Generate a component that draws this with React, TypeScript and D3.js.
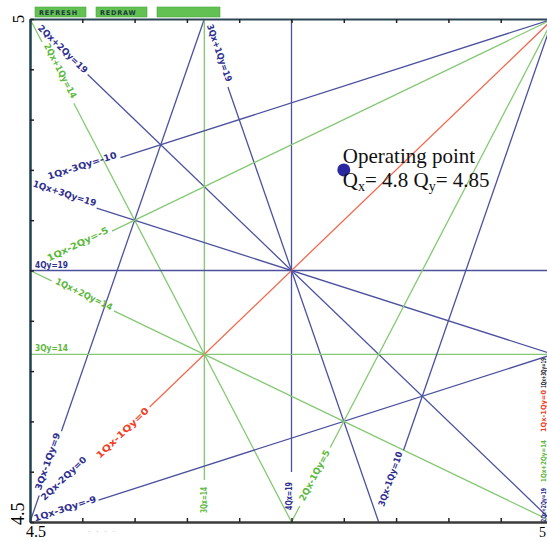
import React, { useRef, useEffect } from 'react'
import * as d3 from 'd3'

const W = 547
const H = 542

// resonance lines: kx*Qx + ky*Qy = kc
const resonances = [
  '2Qx+2Qy=19', '2Qx+1Qy=14', '3Qx+1Qy=19', '3Qx-1Qy=9', '3Qx=14', '4Qx=19',
  '4Qy=19', '3Qy=14', '1Qx-1Qy=0', '2Qx-2Qy=0', '1Qx+3Qy=19', '1Qx-3Qy=-10',
  '1Qx-3Qy=-9', '1Qx+2Qy=14', '1Qx-2Qy=-5', '2Qx-1Qy=5', '3Qx-1Qy=10',
]
const kx = [2, 2, 3, 3, 3, 4, 0, 0, 1, 2, 1, 1, 1, 1, 1, 2, 3]
const ky = [2, 1, 1, -1, 0, 0, 4, 3, -1, -2, 3, -3, -3, 2, -2, -1, -1]
const kc = [19, 14, 19, 9, 14, 19, 19, 14, 0, 0, 19, -10, -9, 14, -5, 5, 10]

// tune range and operating point
const qRange = [4.5, 5]
const opQx = 4.8
const opQy = 4.85

const buttons = ['REFRESH', 'REDRAW', '']
const edgeLabels = ['1Qx+3Qy=19', '1Qx-1Qy=0', '1Qx+2Qy=14', '2Qx+2Qy=19']
const edgeOrders = [0, 2, 3, 4]

// line colour by resonance order
const lineColor: Record<number, string> = { 2: '#f2694e', 3: '#84c873', 4: '#4c519f' }
const textColor: Record<number, string> = { 0: '#222233', 2: '#f0401f', 3: '#5cb83c', 4: '#2e2e8e' }

// label placement along each line (px from the anchor end)
interface Lay { end: 'left' | 'top' | 'bottom'; d0: number; d1: number; resume?: number; pre?: number; off: number; full?: boolean; noLine?: boolean }
const layout: Record<string, Lay> = {
  '2Qx+2Qy=19': { end: 'left', d0: 12, d1: 77, resume: 80, off: -1 },
  '2Qx+1Qy=14': { end: 'left', pre: 26, d0: 30, d1: 90, resume: 95, off: -3 },
  '3Qx+1Qy=19': { end: 'top', d0: 7, d1: 67, resume: 72, off: -3 },
  '3Qx-1Qy=9': { end: 'bottom', pre: 28, d0: 33, d1: 93, resume: 96, off: -3 },
  '3Qx=14': { end: 'bottom', d0: 9, d1: 35, resume: 42, off: 0 },
  '4Qx=19': { end: 'bottom', d0: 12, d1: 40, resume: 50, off: -3 },
  '4Qy=19': { end: 'left', d0: 5, d1: 38, off: -6, full: true },
  '3Qy=14': { end: 'left', d0: 5, d1: 38, off: -6, full: true },
  '1Qx-1Qy=0': { end: 'left', d0: 94, d1: 163, resume: 166, off: 0 },
  '2Qx-2Qy=0': { end: 'left', d0: 25, d1: 84, off: -8, noLine: true },
  '1Qx+3Qy=19': { end: 'left', d0: 2, d1: 68, resume: 70, off: -4 },
  '1Qx-3Qy=-10': { end: 'left', d0: 20, d1: 92, resume: 95, off: -4 },
  '1Qx-3Qy=-9': { end: 'left', d0: 5, d1: 70, resume: 72, off: -2 },
  '1Qx+2Qy=14': { end: 'left', pre: 24, d0: 28, d1: 90, resume: 93, off: -2 },
  '1Qx-2Qy=-5': { end: 'left', d0: 21, d1: 88, resume: 91, off: -3 },
  '2Qx-1Qy=5': { end: 'bottom', pre: 18, d0: 24, d1: 80, resume: 84, off: -1 },
  '3Qx-1Qy=10': { end: 'bottom', d0: 16, d1: 73, resume: 76, off: -3 },
}

function clipLine(a: number, b: number, c: number): [number, number][] {
  const [lo, hi] = qRange
  const eps = 1e-9
  const pts: [number, number][] = []
  const add = (p: [number, number]) => {
    if (!pts.some(q => Math.abs(q[0] - p[0]) < 1e-6 && Math.abs(q[1] - p[1]) < 1e-6)) pts.push(p)
  }
  if (b !== 0) for (const qx of [lo, hi]) {
    const qy = (c - a * qx) / b
    if (qy >= lo - eps && qy <= hi + eps) add([qx, qy])
  }
  if (a !== 0) for (const qy of [lo, hi]) {
    const qx = (c - b * qy) / a
    if (qx >= lo - eps && qx <= hi + eps) add([qx, qy])
  }
  return pts
}

export default function App() {
  const ref = useRef<SVGSVGElement>(null)
  useEffect(() => {
    if (!ref.current) return
    const svg = d3.select(ref.current)
    svg.selectAll('*').remove()

    const x = d3.scaleLinear().domain(qRange).range([30, 553])
    const y = d3.scaleLinear().domain(qRange).range([522, 19])

    svg.append('rect').attr('width', W).attr('height', H).attr('fill', '#fff')

    // buttons
    const bx = [35, 96, 157]
    const bw = [51, 51, 63]
    buttons.forEach((b, i) => {
      svg.append('rect').attr('x', bx[i]).attr('y', 7).attr('width', bw[i]).attr('height', 10)
        .attr('fill', '#62c152').attr('stroke', '#4aa83c').attr('stroke-width', 0.6)
      if (b) svg.append('text').attr('x', bx[i] + 4).attr('y', 15).text(b)
        .attr('font-family', 'DejaVu Sans').attr('font-weight', 'bold').attr('font-size', 6.5)
        .attr('letter-spacing', 0.8).attr('fill', '#1c3a3a')
    })

    const plot = svg.append('g')

    resonances.forEach((name, i) => {
      const order = Math.abs(kx[i]) + Math.abs(ky[i])
      const lay = layout[name]
      const pts = clipLine(kx[i], ky[i], kc[i]).map(p => [x(p[0]), y(p[1])] as [number, number])
      if (pts.length < 2) return
      let [p0, p1] = pts
      if (lay.end === 'left' && p1[0] < p0[0]) [p0, p1] = [p1, p0]
      if (lay.end === 'top' && p1[1] < p0[1]) [p0, p1] = [p1, p0]
      if (lay.end === 'bottom' && p1[1] > p0[1]) [p0, p1] = [p1, p0]
      const dx = p1[0] - p0[0]
      const dy = p1[1] - p0[1]
      const len = Math.hypot(dx, dy)
      const ux = dx / len
      const uy = dy / len
      const at = (d: number) => [p0[0] + ux * d, p0[1] + uy * d]
      const seg = (d1: number, d2: number) => {
        const a = at(d1), b = at(d2)
        plot.append('line').attr('x1', a[0]).attr('y1', a[1]).attr('x2', b[0]).attr('y2', b[1])
          .attr('stroke', lineColor[order]).attr('stroke-width', 1.3)
      }
      if (!lay.noLine) {
        if (lay.full) seg(0, len)
        else {
          if (lay.pre) seg(0, lay.pre)
          seg(lay.resume ?? lay.d1, len)
        }
      }
      const ang = Math.atan2(uy, ux) * 180 / Math.PI
      const s = at(lay.d0)
      plot.append('text')
        .attr('transform', `translate(${s[0]},${s[1]}) rotate(${ang})`)
        .attr('y', lay.off)
        .attr('dominant-baseline', 'central')
        .attr('textLength', lay.d1 - lay.d0)
        .attr('lengthAdjust', 'spacingAndGlyphs')
        .attr('font-family', 'DejaVu Sans')
        .attr('font-weight', 'bold')
        .attr('font-size', 9)
        .attr('fill', textColor[order])
        .text(name)
    })

    // labels squeezed along the right edge
    const eyBottom = [388, 432, 482, 522]
    const eyTop = [358, 390, 440, 488]
    edgeLabels.forEach((t, i) => {
      svg.append('text')
        .attr('transform', `translate(${W - 1},${eyBottom[i]}) rotate(-90)`)
        .attr('textLength', eyBottom[i] - eyTop[i])
        .attr('lengthAdjust', 'spacingAndGlyphs')
        .attr('font-family', 'DejaVu Sans').attr('font-weight', 'bold').attr('font-size', 7)
        .attr('fill', textColor[edgeOrders[i]])
        .text(t)
    })

    // axes
    const ticks = d3.range(0, 11).map(k => qRange[0] + k * 0.05)
    const bottom = svg.append('g').attr('transform', `translate(0,${y(4.5)})`)
      .call(d3.axisBottom(x).tickValues(ticks).tickSize(-4).tickSizeOuter(0).tickFormat(() => ''))
    bottom.select('.domain').attr('stroke', '#3a3a3a').attr('stroke-width', 2.5)
    bottom.selectAll('.tick line').attr('stroke', '#222').attr('stroke-width', 1.5)

    const top = svg.append('g').attr('transform', `translate(0,${y(5)})`)
      .call(d3.axisTop(x).tickValues(ticks).tickSize(-4).tickSizeOuter(0).tickFormat(() => ''))
    top.select('.domain').attr('stroke', '#2c4656').attr('stroke-width', 2)
    top.selectAll('.tick line').attr('stroke', '#222').attr('stroke-width', 1.5)

    const left = svg.append('g').attr('transform', `translate(${x(4.5)},0)`)
      .call(d3.axisLeft(y).tickValues(ticks).tickSize(-4).tickSizeOuter(0).tickFormat(() => ''))
    left.select('.domain').attr('stroke', '#1e4050').attr('stroke-width', 2.5)
    left.selectAll('.tick line').attr('stroke', '#222').attr('stroke-width', 1.5)

    const serif = 'Liberation Serif'
    svg.append('text').attr('transform', `translate(24,${y(5)}) rotate(-90)`)
      .attr('text-anchor', 'middle').attr('font-family', serif).attr('font-size', 17).text('5')
    svg.append('text').attr('transform', `translate(24,${y(4.5) + 3}) rotate(-90)`)
      .attr('text-anchor', 'start').attr('font-family', serif).attr('font-size', 18).text('4.5')
    svg.append('text').attr('x', x(4.5) + 6).attr('y', 537)
      .attr('text-anchor', 'middle').attr('font-family', serif).attr('font-size', 16).text('4.5')
    svg.append('text').attr('x', W - 1).attr('y', 537)
      .attr('text-anchor', 'end').attr('font-family', serif).attr('font-size', 14).text('5')
    svg.append('text').attr('x', 88).attr('y', 534).attr('font-family', 'DejaVu Sans')
      .attr('font-size', 7).attr('fill', '#aaa').attr('letter-spacing', 6).text('····')

    // operating point
    svg.append('circle').attr('cx', x(opQx)).attr('cy', y(opQy)).attr('r', 6.5).attr('fill', '#2828a0')
    const t1 = svg.append('text').attr('x', x(opQx) - 1).attr('y', 163)
      .attr('font-family', serif).attr('font-size', 21).attr('fill', '#111')
    t1.text('Operating point')
    const t2 = svg.append('text').attr('x', x(opQx) - 1).attr('y', 187)
      .attr('font-family', serif).attr('font-size', 21).attr('fill', '#111')
    t2.append('tspan').text('Q')
    t2.append('tspan').attr('dy', 4).attr('font-size', 14).text('x')
    t2.append('tspan').attr('dy', -4).text(`= ${opQx} Q`)
    t2.append('tspan').attr('dy', 4).attr('font-size', 14).text('y')
    t2.append('tspan').attr('dy', -4).text(`= ${opQy}`)
  }, [])
  return (
    <svg ref={ref} width={W} height={H} style={{ position: 'absolute', left: 0, top: 0 }} />
  )
}
